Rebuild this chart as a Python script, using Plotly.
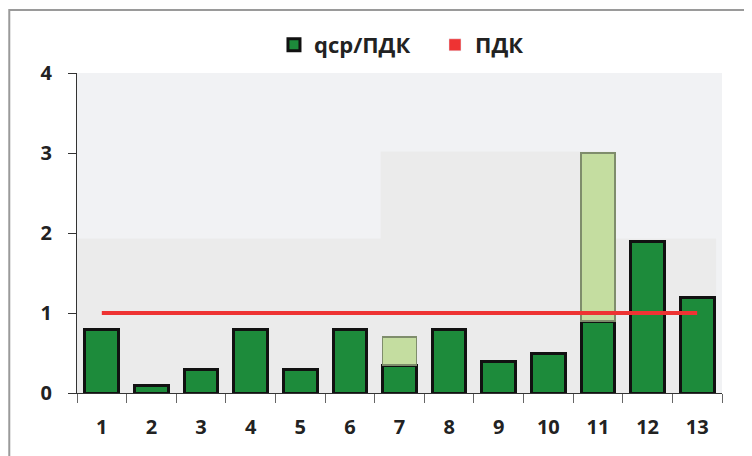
import plotly.graph_objects as go

categories = [str(i) for i in range(1, 14)]
qcp_pdk = [0.8, 0.1, 0.3, 0.8, 0.3, 0.8, 0.35, 0.8, 0.4, 0.5, 0.9, 1.9, 1.2]
light_part = [None, None, None, None, None, None, 0.35, None, None, None, 2.1, None, None]
pdk = [1] * 13
y_ticks = [0, 1, 2, 3, 4]

fig = go.Figure()

fig.add_trace(go.Bar(
    x=categories, y=qcp_pdk, name="qcp/ПДК", width=0.68,
    marker=dict(color="#1d8b3b", line=dict(color="#111111", width=3)),
))
fig.add_trace(go.Bar(
    x=categories, y=light_part, name="light", showlegend=False, width=0.68,
    marker=dict(color="#c4dda0", line=dict(color="#7f8d6c", width=1.5)),
))
# legend-only square for the red line
fig.add_trace(go.Bar(
    x=categories, y=[None] * 13, name="ПДК",
    marker=dict(color="#ee3333"),
))
fig.add_trace(go.Scatter(
    x=categories, y=pdk, mode="lines", showlegend=False,
    line=dict(color="#ee3333", width=4),
))

# stepped grey back wall and outer frame
fig.add_shape(type="rect", xref="x", yref="y", x0=-0.5, x1=12.38, y0=0, y1=1.93,
              fillcolor="#ebebeb", line=dict(width=0), layer="below")
fig.add_shape(type="rect", xref="x", yref="y", x0=5.62, x1=10.34, y0=0, y1=3.02,
              fillcolor="#ebebeb", line=dict(width=0), layer="below")
fig.add_shape(type="rect", xref="paper", yref="paper", x0=-0.105, x1=1.06, y0=-0.25, y1=1.197,
              fillcolor="rgba(0,0,0,0)", line=dict(color="#9a9a9a", width=2))

fig.update_layout(
    width=744, height=448,
    margin=dict(l=69, r=30, t=65, b=63, autoexpand=False),
    barmode="stack",
    paper_bgcolor="white",
    plot_bgcolor="#f1f2f4",
    font=dict(family="Open Sans", color="#222222"),
    showlegend=True,
    legend=dict(orientation="h", x=0.3054, xanchor="left", y=1.0875, yanchor="middle",
                font=dict(size=22, family="Open Sans", color="#222222", weight="bold"),
                itemwidth=30, entrywidth=116, traceorder="normal"),
)
fig.update_xaxes(
    type="category", range=[-0.5, 12.5],
    showline=True, linecolor="#333333", linewidth=1,
    ticks="outside", tickson="boundaries", ticklen=9, tickcolor="#666666",
    tickfont=dict(size=20, family="Open Sans", color="#222222", weight="bold"),
    ticklabelstandoff=16,
    showgrid=False,
)
fig.update_yaxes(
    range=[0, 4], tickvals=y_ticks,
    showline=True, linecolor="#333333", linewidth=1,
    ticks="outside", ticklen=8, tickcolor="#333333",
    tickfont=dict(size=20, family="Open Sans", color="#222222", weight="bold"),
    ticklabelstandoff=12,
    showgrid=False, zeroline=False,
)

fig.write_html("out.html")
